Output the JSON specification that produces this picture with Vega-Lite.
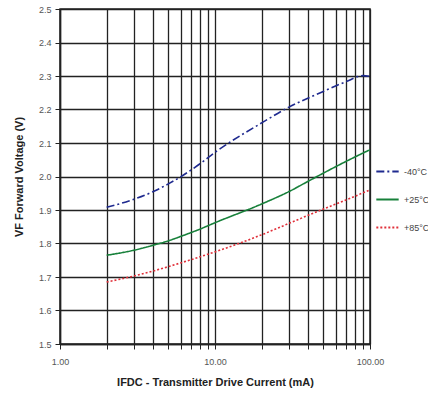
{
  "$schema": "https://vega.github.io/schema/vega-lite/v6.json",
  "width": 310,
  "height": 335,
  "autosize": {"type": "none"},
  "padding": {"left": 60, "top": 9, "right": 58, "bottom": 54},
  "background": "white",
  "config": {
    "view": {"stroke": "#222", "strokeWidth": 1.5},
    "font": "Liberation Sans"
  },
  "data": {
    "values": [
      {"x": 2, "v": 1.908, "s": "-40°C"},
      {"x": 3, "v": 1.932, "s": "-40°C"},
      {"x": 4, "v": 1.955, "s": "-40°C"},
      {"x": 5, "v": 1.978, "s": "-40°C"},
      {"x": 6, "v": 1.999, "s": "-40°C"},
      {"x": 8, "v": 2.038, "s": "-40°C"},
      {"x": 10, "v": 2.072, "s": "-40°C"},
      {"x": 20, "v": 2.16, "s": "-40°C"},
      {"x": 30, "v": 2.207, "s": "-40°C"},
      {"x": 50, "v": 2.254, "s": "-40°C"},
      {"x": 70, "v": 2.283, "s": "-40°C"},
      {"x": 90, "v": 2.301, "s": "-40°C"},
      {"x": 100, "v": 2.299, "s": "-40°C"},
      {"x": 2, "v": 1.765, "s": "+25°C"},
      {"x": 3, "v": 1.780, "s": "+25°C"},
      {"x": 4, "v": 1.795, "s": "+25°C"},
      {"x": 5, "v": 1.808, "s": "+25°C"},
      {"x": 6, "v": 1.821, "s": "+25°C"},
      {"x": 8, "v": 1.843, "s": "+25°C"},
      {"x": 10, "v": 1.862, "s": "+25°C"},
      {"x": 20, "v": 1.918, "s": "+25°C"},
      {"x": 30, "v": 1.955, "s": "+25°C"},
      {"x": 40, "v": 1.986, "s": "+25°C"},
      {"x": 50, "v": 2.01, "s": "+25°C"},
      {"x": 70, "v": 2.045, "s": "+25°C"},
      {"x": 100, "v": 2.08, "s": "+25°C"},
      {"x": 2, "v": 1.685, "s": "+85°C"},
      {"x": 3, "v": 1.703, "s": "+85°C"},
      {"x": 4, "v": 1.718, "s": "+85°C"},
      {"x": 6, "v": 1.742, "s": "+85°C"},
      {"x": 10, "v": 1.775, "s": "+85°C"},
      {"x": 20, "v": 1.826, "s": "+85°C"},
      {"x": 30, "v": 1.86, "s": "+85°C"},
      {"x": 50, "v": 1.903, "s": "+85°C"},
      {"x": 70, "v": 1.93, "s": "+85°C"},
      {"x": 100, "v": 1.96, "s": "+85°C"}
    ]
  },
  "mark": {"type": "line", "strokeWidth": 1.6, "interpolate": "monotone"},
  "encoding": {
    "x": {
      "field": "x",
      "type": "quantitative",
      "scale": {"type": "log", "domain": [1, 100], "nice": false},
      "axis": {
        "title": "IFDC - Transmitter Drive Current (mA)",
        "titleFont": "Liberation Sans",
        "titleFontSize": 11,
        "titleFontWeight": "bold",
        "titleColor": "#222",
        "titlePadding": 10,
        "values": [1, 2, 3, 4, 5, 6, 7, 8, 9, 10, 20, 30, 40, 50, 60, 70, 80, 90, 100],
        "format": ".2f",
        "labelExpr": "(datum.value == 1 || datum.value == 10 || datum.value == 100) ? datum.label : ''",
        "labelFontSize": 9,
        "labelColor": "#555",
        "labelPadding": 8,
        "labelFlush": false,
        "labelOverlap": false,
        "grid": true,
        "gridColor": "#222",
        "gridWidth": 1.3,
        "gridOpacity": 1,
        "domainColor": "#222",
        "domainWidth": 1.5,
        "tickColor": "#222",
        "tickSize": 5
      }
    },
    "y": {
      "field": "v",
      "type": "quantitative",
      "scale": {"domain": [1.5, 2.5], "nice": false, "zero": false},
      "axis": {
        "title": "VF Forward Voltage (V)",
        "titleFont": "Liberation Sans",
        "titleFontSize": 11,
        "titleFontWeight": "bold",
        "titleColor": "#222",
        "titlePadding": 14,
        "values": [1.5, 1.6, 1.7, 1.8, 1.9, 2.0, 2.1, 2.2, 2.3, 2.4, 2.5],
        "format": ".1f",
        "labelFontSize": 9,
        "labelColor": "#555",
        "labelPadding": 4,
        "grid": true,
        "gridColor": "#222",
        "gridWidth": 1.3,
        "gridOpacity": 1,
        "domainColor": "#222",
        "domainWidth": 1.5,
        "tickColor": "#222",
        "tickSize": 5
      }
    },
    "color": {
      "field": "s",
      "type": "nominal",
      "scale": {"domain": ["-40°C", "+25°C", "+85°C"], "range": ["#1f2a8f", "#17803a", "#e0303a"]},
      "legend": {
        "title": null,
        "orient": "none",
        "legendX": 315,
        "legendY": 150,
        "symbolType": "stroke",
        "symbolSize": 500,
        "symbolStrokeWidth": 2,
        "labelFontSize": 9,
        "labelColor": "#444",
        "rowPadding": 10
      }
    },
    "strokeDash": {
      "field": "s",
      "type": "nominal",
      "scale": {"domain": ["-40°C", "+25°C", "+85°C"], "range": [[8, 3, 2, 3], [1, 0], [2, 2]]},
      "legend": null
    }
  }
}
